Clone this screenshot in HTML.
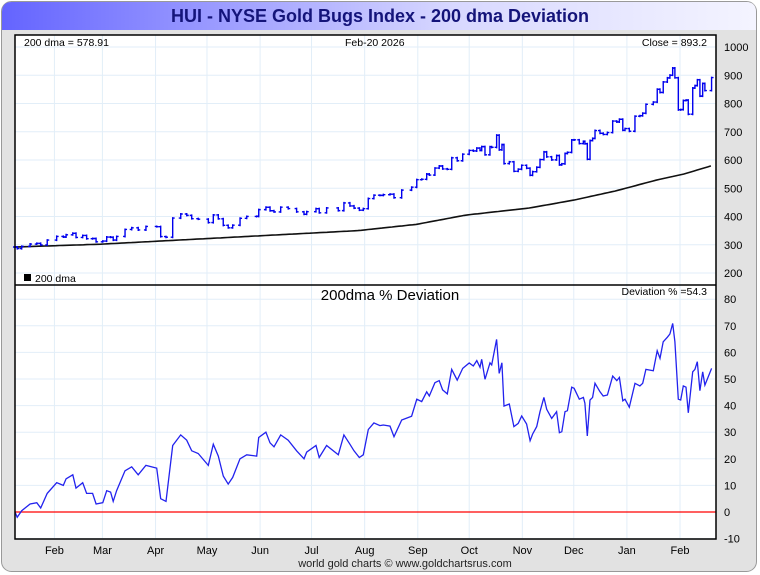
<!DOCTYPE html>
<html><head><meta charset="utf-8"><style>
body{margin:0;background:#fff;font-family:"Liberation Sans",sans-serif}
svg{display:block}
text{font-family:"Liberation Sans",sans-serif}
</style></head><body>
<svg id="c" width="760" height="575" viewBox="0 0 760 575">
<defs><linearGradient id="tg" x1="0" x2="1"><stop offset="0" stop-color="#6464ff"/><stop offset="0.6" stop-color="#d8d8ff"/><stop offset="1" stop-color="#f4f4ff"/></linearGradient></defs>
<rect x="1.5" y="1.5" width="755" height="570" rx="10" fill="#e2e2e2" stroke="#999"/>
<path d="M2 30 V12 Q2 2 12 2 H746 Q756 2 756 12 V30 Z" fill="url(#tg)"/>
<text x="380" y="22" text-anchor="middle" font-size="18" font-weight="bold" fill="#14147a">HUI - NYSE Gold Bugs Index - 200 dma Deviation</text>
<rect x="15" y="35" width="701" height="504" fill="#fff"/>
<g id="grid"></g><g id="marks"></g><g id="axes"></g>
<rect x="15" y="35" width="701" height="504" fill="none" stroke="#000" stroke-width="1.5"/>
<line x1="15" x2="716" y1="285" y2="285" stroke="#000" stroke-width="1.5"/>
<text x="24" y="46" font-size="10.5">200 dma = 578.91</text>
<text x="345" y="46" font-size="10.5">Feb-20  2026</text>
<text x="707" y="46" font-size="10.5" text-anchor="end">Close = 893.2</text>
<rect x="24" y="274" width="7" height="7" fill="#000"/>
<text x="35" y="282" font-size="10.5">200 dma</text>
<text x="390" y="300" font-size="15" text-anchor="middle">200dma  %  Deviation</text>
<text x="707" y="295" font-size="10.5" text-anchor="end">Deviation % =54.3</text>
<text x="405" y="567" font-size="11" text-anchor="middle" fill="#222">world gold charts © www.goldchartsrus.com</text>
</svg>
<script>
const monthLabels=["Feb","Mar","Apr","May","Jun","Jul","Aug","Sep","Oct","Nov","Dec","Jan","Feb"];
const monthDays=[23,51,82,112,143,173,204,235,265,296,326,357,388];
const priceTicks=[200,300,400,500,600,700,800,900,1000];
const devTicks=[-10,0,10,20,30,40,50,60,70,80];
const maDays=[0,50,100,150,200,234,263,300,326,350,375,390,406];
const maValues=[292,302,318,334,350,372,405,430,458,490,530,550,579];
const devDays=[0,1.3,3.9,8.8,12.7,15,18.8,24.3,28.2,29.8,33.7,35.6,39.5,41.8,45.3,47.3,51.2,53.5,55.8,57.3,59.3,64.2,68.1,71.9,76.4,82.7,85,88.1,92,96.7,100.2,103.1,106.9,112.8,115.7,118.6,121.5,124.4,127,131.3,135.2,141,142.2,146.4,148.8,151.1,155,159.4,164.3,168.6,170.2,175.6,177.5,181.8,188.6,191.9,195.4,197.8,200.9,203.2,206.1,209.4,212.9,214.9,218.8,221.1,225.6,231.4,234.4,237.3,240.2,241.7,245,247.5,249.5,252.2,254.8,258,261.2,265,267.4,269.4,271.3,272.3,274.2,277.1,278.1,281,282.5,284.1,285.3,288.4,291.1,293.6,295.6,298.5,300.5,302,304.4,306.3,308.6,310.2,313.1,316,317.6,319,320.9,322.3,324.8,326.2,329.2,331.6,332.5,333.9,335.5,337,338.4,341.3,343.2,345.6,348.7,351.1,352.6,354.6,355.9,358.4,361.7,364.6,366.2,368.1,372.4,374.7,376.3,378.2,380.6,382.1,383.7,385,387,388.4,389.9,391.5,392.8,395.4,396.7,398.1,399.6,401.2,402.5,406.4];
const devValues=[0,-2,0.5,3,3.5,1.5,7,11,10,12.5,14,9,11,7,7,3,3.5,8,7.5,4,8,15.5,17,14,17.5,16.5,5,4,25,29,27,23,22,17.5,25.5,21,13.5,10.5,13,20,21.5,21,28,30,26,24.5,29,27,23,20,22.5,25,20.5,25,21.5,29,25.5,23,20.5,21.5,31,33.5,32.5,32.7,32.3,28.3,34.6,36,42.4,41.5,45.2,43.6,48.6,49.4,45.9,44.4,53.6,49.6,54,56,54.9,56.9,54.4,57.4,49.9,56.1,55.3,64.9,52.1,56.1,39.8,40.6,32.1,33.3,36.1,33.1,26.8,29.3,32.1,37.7,43.1,38.6,35.2,37.7,29.8,30.2,37.7,38.1,46.9,46.5,42.4,43.1,40.9,28.6,42.1,43.1,48.4,45.2,43.6,44,51.1,49.4,50.6,41.8,42.4,39.4,48.4,47.4,48.4,53.6,53.1,60.6,57.8,64,65.7,66.9,70.9,64,42.4,42.1,47.4,46.9,37.3,52.7,53.6,56.5,45.6,52.7,47.7,54];

const NS="http://www.w3.org/2000/svg";
const L=15,R=716;
const xS=d=>L+d*(R-L-3.4)/407;
const yP=v=>273-(v-200)*0.2825;
const yD=v=>512-v*2.66;
function mk(tag,attrs,parent){const e=document.createElementNS(NS,tag);for(const k in attrs)e.setAttribute(k,attrs[k]);parent.appendChild(e);return e;}
const grid=document.getElementById('grid'),marks=document.getElementById('marks'),axes=document.getElementById('axes');
function maAt(d){for(let i=1;i<maDays.length;i++){if(d<=maDays[i]){const t=(d-maDays[i-1])/(maDays[i]-maDays[i-1]);return maValues[i-1]+t*(maValues[i]-maValues[i-1]);}}return maValues[maValues.length-1];}
monthDays.forEach((d,i)=>{
  const x=xS(d);
  const g=mk('line',{x1:x,x2:x,y1:35,y2:539,stroke:'#e2eef8'},grid);
  
  
  const t=mk('text',{x:x,y:554,'font-size':11,'text-anchor':'middle'},axes);
  t.textContent=monthLabels[i];
  
  
});
priceTicks.forEach(v=>{
  const y=yP(v);
  const g=mk('line',{x1:15,x2:716,y1:y,y2:y,stroke:'#e2eef8'},grid);
  
  
  const t=mk('text',{x:724,y:y+4,'font-size':11},axes);
  t.textContent=v;
  
  
});
devTicks.forEach(v=>{
  const y=yD(v);
  const g=mk('line',{x1:15,x2:716,y1:y,y2:y,stroke:'#e2eef8'},grid);
  
  
  const t=mk('text',{x:724,y:y+4,'font-size':11},axes);
  t.textContent=v;
  
  
});
// MA line
let p='';
for(let d=0;d<=406;d+=2){p+=(d?'L':'M')+xS(d).toFixed(1)+' '+yP(maAt(d)).toFixed(1);}
const ma=mk('path',{d:p,fill:'none',stroke:'#111','stroke-width':1.6},marks);


// price bars
let prev=null;
devDays.forEach((d,i)=>{
  const c=maAt(d)*(1+devValues[i]/100);
  const x=xS(d);const o=prev===null?c:prev;
  const y1=yP(Math.max(o,c))-1,y2=yP(Math.min(o,c))+1;
  const b=mk('path',{d:`M${x} ${y1}V${y2}M${x-2} ${yP(o)}H${x}M${x} ${yP(c)}H${x+2}`,stroke:'#0000ee','stroke-width':1.4,fill:'none'},marks);
  
  
  prev=c;
});
// zero line
const z=mk('line',{x1:15,x2:716,y1:yD(0),y2:yD(0),stroke:'#ff0000','stroke-width':1.2},marks);


// deviation line
const dp=devDays.map((d,i)=>(i?'L':'M')+xS(d).toFixed(1)+' '+yD(devValues[i]).toFixed(1)).join('');
const dl=mk('path',{d:dp,fill:'none',stroke:'#2222ee','stroke-width':1.3},marks);


</script>
</body></html>
